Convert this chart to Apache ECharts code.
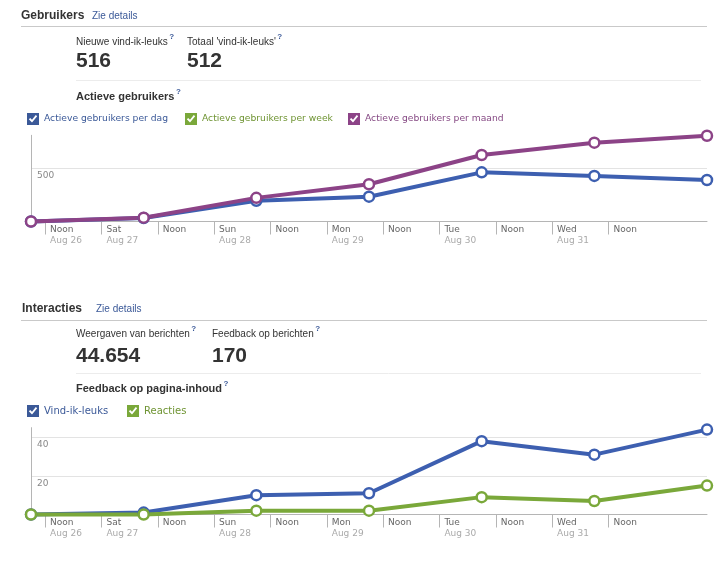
<!DOCTYPE html>
<html><head><meta charset="utf-8">
<script src="https://cdn.jsdelivr.net/npm/echarts@6/dist/echarts.min.js"></script>
<style>html,body{margin:0;padding:0;background:#fff}#c{width:720px;height:582px}</style>
</head><body><div id="c"></div>
<script>
// ---- data ----
const pointHours = [9, 33, 57, 81, 105, 129, 153];          // hours after midnight Aug 26
const perDag = [0, 32, 195, 233, 462, 428, 390];
const perWeek = [];
const perMaand = [0, 36, 222, 350, 625, 741, 806];
const vindIkLeuks = [0, 1, 10, 11, 38, 31, 44];
const reacties = [0, 0, 2, 2, 9, 7, 15];
const tickHours = [12, 24, 36, 48, 60, 72, 84, 96, 108, 120, 132];
const tickTop = ['Noon', 'Sat', 'Noon', 'Sun', 'Noon', 'Mon', 'Noon', 'Tue', 'Noon', 'Wed', 'Noon'];
const tickBottom = ['Aug 26', 'Aug 27', '', 'Aug 28', '', 'Aug 29', '', 'Aug 30', '', 'Aug 31', ''];
const nieuweLikes = '516';
const totaalLikes = '512';
const weergaven = '44.654';
const feedback = '170';

// ---- styles ----
const BLUE = '#3d5fb0', PURPLE = '#8c4387', GREEN = '#7aa83a';
const FB = '#3b5998';
const SANS = 'Liberation Sans';
const DJ = 'DejaVu Sans';

const mctx = document.createElement('canvas').getContext('2d');
function tw(str, font) { mctx.font = font; return mctx.measureText(str).width; }

const graphics = [];
function txt(str, x, y, size, color, weight) {
  const font = (weight || 'normal') + ' ' + size + 'px "' + SANS + '"';
  graphics.push({type: 'text', x: x, y: y, style: {text: str, fill: color, font: font,
    textAlign: 'left', textVerticalAlign: 'middle', align: 'left', verticalAlign: 'middle'}, silent: true});
  return tw(str, font);
}
function q(str, x, y, size, weight) {
  const w = txt(str, x, y, size, '#333', weight);
  graphics.push({type: 'text', x: x + w + 1.5, y: y - 5, style: {text: '?', fill: FB, font: 'bold 8px "' + SANS + '"',
    textAlign: 'left', textVerticalAlign: 'middle', align: 'left', verticalAlign: 'middle'}, silent: true});
}
function hline(x1, x2, y, color) {
  graphics.push({type: 'line', shape: {x1: x1, y1: y, x2: x2, y2: y}, style: {stroke: color, lineWidth: 1}, silent: true});
}

// header 1
txt('Gebruikers', 21, 16, 12, '#333', 'bold');
txt('Zie details', 92, 16, 10, FB);
hline(21, 707, 26.5, '#c9c9c9');
q('Nieuwe vind-ik-leuks', 76, 42, 10);
q("Totaal 'vind-ik-leuks'", 187, 42, 10);
txt(nieuweLikes, 76, 61, 21, '#333', 'bold');
txt(totaalLikes, 187, 61, 21, '#333', 'bold');
hline(76, 701, 80.5, '#ececec');
q('Actieve gebruikers', 76, 97, 11, 'bold');
// header 2
txt('Interacties', 22, 309, 12, '#333', 'bold');
txt('Zie details', 96, 309, 10, FB);
hline(21, 707, 320.5, '#c9c9c9');
q('Weergaven van berichten', 76, 334, 10);
q('Feedback op berichten', 212, 334, 10);
txt(weergaven, 76, 356, 21, '#333', 'bold');
txt(feedback, 212, 356, 21, '#333', 'bold');
hline(76, 701, 373.5, '#ececec');
q('Feedback op pagina-inhoud', 76, 389, 11, 'bold');

const CHECK = 'path://M0,0L12,0L12,12L0,12Z M1.8,6.2L5,9.5L10.2,3.2L8.8,2L5,6.8L3.2,5Z';
function leg(name, left, top, color, textColor, fs) {
  return {left: left, top: top, padding: 0, itemWidth: 12, itemHeight: 12, itemGap: 0, selectedMode: false,
    textStyle: {fontFamily: DJ, fontSize: fs, color: textColor},
    data: [{name: name, icon: CHECK, itemStyle: {color: color, borderWidth: 0}}]};
}

function xAxis(gi) {
  return {type: 'value', gridIndex: gi, min: 9, max: 153,
    axisLine: {show: true, lineStyle: {color: '#b5b5b5', width: 1}},
    axisTick: {show: true, customValues: tickHours, length: 13, lineStyle: {color: '#b5b5b5'}},
    splitLine: {show: false},
    axisLabel: {customValues: tickHours, align: 'left', verticalAlign: 'top', margin: 3, padding: [0, 0, 0, 5],
      formatter: function (v) {
        const i = tickHours.indexOf(v);
        if (i < 0) return '';
        return tickBottom[i] ? '{a|' + tickTop[i] + '}\n{b|' + tickBottom[i] + '}' : '{a|' + tickTop[i] + '}';
      },
      rich: {a: {fontFamily: DJ, fontSize: 9, color: '#666', lineHeight: 11},
             b: {fontFamily: DJ, fontSize: 9, color: '#aaa', lineHeight: 11}}}
  };
}
function yAxis(gi, max, interval) {
  return {type: 'value', gridIndex: gi, min: 0, max: max, interval: interval,
    axisLine: {show: true, lineStyle: {color: '#b5b5b5', width: 1}},
    axisTick: {show: false},
    splitLine: {show: true, showMinLine: false, showMaxLine: false, lineStyle: {color: '#e3e3e3'}},
    axisLabel: {inside: true, showMinLabel: false, showMaxLabel: false, align: 'left', verticalAlign: 'top',
      margin: 6, padding: [3, 0, 0, 0], fontFamily: DJ, fontSize: 9, color: '#888'}
  };
}
function ser(name, gi, vals, color) {
  return {type: 'line', name: name, xAxisIndex: gi, yAxisIndex: gi, clip: false,
    data: vals.map((v, i) => [pointHours[i], v]),
    symbol: 'circle', symbolSize: 10,
    lineStyle: {color: color, width: 4},
    itemStyle: {color: '#fff', borderColor: color, borderWidth: 2.5},
    emphasis: {disabled: true}};
}

const chart = echarts.init(document.getElementById('c'), null, {renderer: 'canvas'});
chart.setOption({
  animation: false,
  backgroundColor: '#fff',
  graphic: graphics,
  legend: [
    leg('Actieve gebruikers per dag', 27, 113, FB, '#3b5998', 9.2),
    leg('Actieve gebruikers per week', 185, 113, GREEN, '#6f9433', 9.2),
    leg('Actieve gebruikers per maand', 348, 113, PURPLE, '#864a84', 9.2),
    leg('Vind-ik-leuks', 27, 405, FB, '#3b5998', 10),
    leg('Reacties', 127, 405, GREEN, '#6f9433', 10)
  ],
  grid: [
    {left: 31, right: 13, top: 135.3, height: 86.2},
    {left: 31, right: 13, top: 427.65, height: 86.85}
  ],
  xAxis: [xAxis(0), xAxis(1)],
  yAxis: [yAxis(0, 810, 500), yAxis(1, 45, 20)],
  series: [
    ser('Actieve gebruikers per dag', 0, perDag, BLUE),
    ser('Actieve gebruikers per week', 0, perWeek, GREEN),
    ser('Actieve gebruikers per maand', 0, perMaand, PURPLE),
    ser('Vind-ik-leuks', 1, vindIkLeuks, BLUE),
    ser('Reacties', 1, reacties, GREEN)
  ]
});
</script></body></html>
